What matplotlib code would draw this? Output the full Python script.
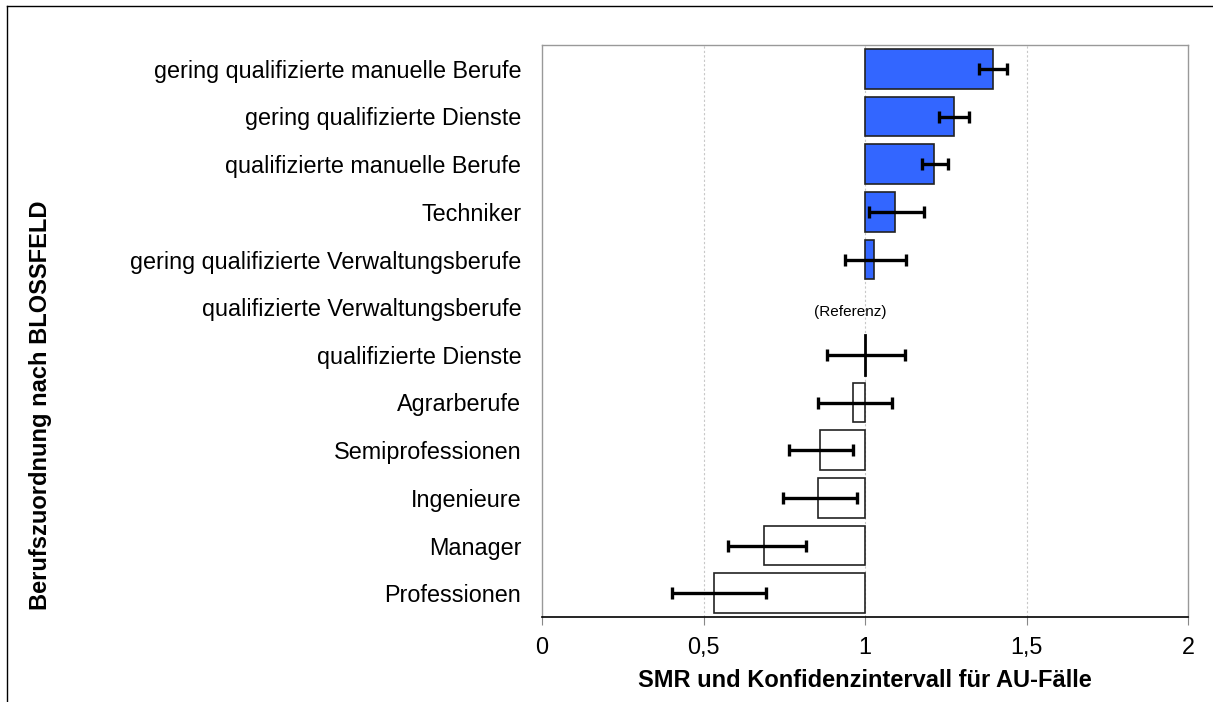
import matplotlib
matplotlib.use("Agg")
import matplotlib.pyplot as plt
from matplotlib.lines import Line2D

plt.rcParams['font.family'] = ['Liberation Sans', 'DejaVu Sans']

categories = [
    "gering qualifizierte manuelle Berufe",
    "gering qualifizierte Dienste",
    "qualifizierte manuelle Berufe",
    "Techniker",
    "gering qualifizierte Verwaltungsberufe",
    "qualifizierte Verwaltungsberufe",
    "qualifizierte Dienste",
    "Agrarberufe",
    "Semiprofessionen",
    "Ingenieure",
    "Manager",
    "Professionen",
]
smr = [1.395, 1.276, 1.215, 1.094, 1.029, None, 1.0, 0.962, 0.860, 0.854, 0.686, 0.533]
ci_low = [1.352, 1.230, 1.177, 1.011, 0.937, None, 0.883, 0.854, 0.766, 0.747, 0.576, 0.401]
ci_high = [1.441, 1.323, 1.256, 1.182, 1.127, None, 1.124, 1.083, 0.964, 0.976, 0.816, 0.695]
xticks = [0, 0.5, 1, 1.5, 2]
xtick_labels = ["0", "0,5", "1", "1,5", "2"]

fig = plt.figure(figsize=(12.13, 7.02), dpi=100)
ax = fig.add_axes([542/1213, 1-617/702, (1188-542)/1213, (617-45)/702])

ref = 1.0
for i, (v, lo, hi) in enumerate(zip(smr, ci_low, ci_high)):
    if v is None:
        ax.text(0.955, i + 0.1, "(Referenz)", ha='center', va='center', fontsize=11)
        continue
    color = '#3366FF' if v > ref else 'white'
    if abs(v - ref) < 1e-9:
        ax.plot([ref, ref], [i - 0.42, i + 0.42], color='black', lw=2, zorder=3)
    else:
        ax.barh(i, v - ref, left=ref, height=0.83, color=color,
                edgecolor='#222222', linewidth=1.2, zorder=2)
    ax.errorbar(v, i, xerr=[[v - lo], [hi - v]], fmt='none', ecolor='black',
                elinewidth=2.4, capsize=4.5, capthick=2.4, zorder=4)

ax.set_ylim(11.5, -0.5)
ax.set_xlim(0, 2)
ax.set_yticks(range(len(categories)))
ax.set_yticklabels(categories, fontsize=16.8)
ax.tick_params(axis='y', length=0, pad=15)
ax.set_xticks(xticks)
ax.set_xticklabels(xtick_labels, fontsize=16.8)
ax.tick_params(axis='x', length=6, color='#888888', pad=8)

for g in [0.5, 1.0, 1.5]:
    ax.axvline(g, color='#c8c8c8', lw=0.8, ls=(0, (2, 2)), zorder=0)

for s in ['top', 'right', 'left']:
    ax.spines[s].set_color('#999999')
    ax.spines[s].set_linewidth(1)
ax.spines['bottom'].set_color('black')
ax.spines['bottom'].set_linewidth(1.2)

ax.set_xlabel("SMR und Konfidenzintervall für AU-Fälle", fontsize=17,
              fontweight='bold', labelpad=7)
fig.text(41/1213, 1-405/702, "Berufszuordnung nach BLOSSFELD", rotation=90,
         ha='center', va='center', fontsize=17, fontweight='bold')

# outer frame lines (left and top)
fig.add_artist(Line2D([7/1213, 7/1213], [0, 1-6/702], color='black', lw=1,
                      transform=fig.transFigure))
fig.add_artist(Line2D([7/1213, 1], [1-6/702, 1-6/702], color='black', lw=1,
                      transform=fig.transFigure))

fig.savefig("out.png", dpi=100)
